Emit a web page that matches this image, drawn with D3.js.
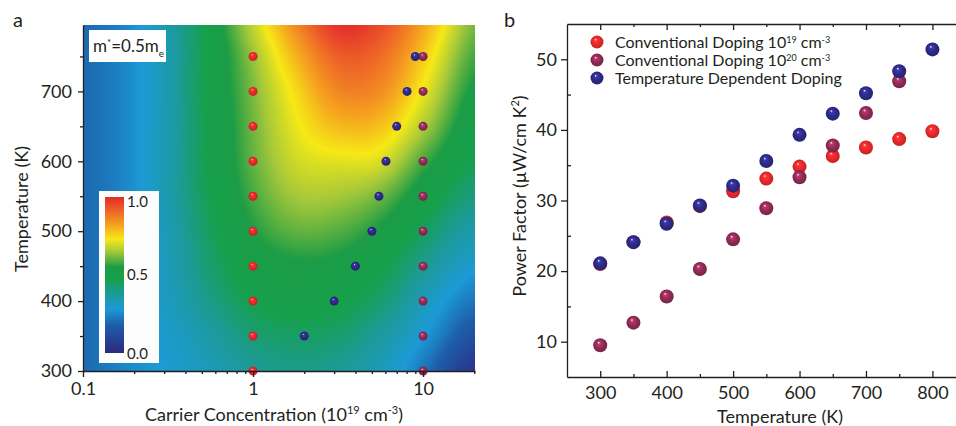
<!DOCTYPE html>
<html>
<head>
<meta charset="utf-8">
<script src="https://cdn.jsdelivr.net/npm/d3@7"></script>
<style>
body { margin: 0; background: #fff; }
svg text { font-family: Lato, "Noto Sans", sans-serif; fill: #231f20; }
.axis path, .axis line { stroke: #231f20; stroke-width: 1.3; }
</style>
</head>
<body>
<svg id="chart" width="956" height="426"></svg>
<script>
// ---- panel a data ----
var gridN = [0.1, 0.18, 0.32, 0.56, 1, 1.8, 3.2, 5.6, 10, 20];
var gridT = [800, 750, 700, 650, 600, 550, 500, 450, 400, 350, 300];
// normalised power factor, one row per temperature (top to bottom)
var gridPF = [
  [0.20, 0.25, 0.35, 0.50, 0.68, 0.86, 0.99, 0.95, 0.82, 0.62],
  [0.20, 0.25, 0.35, 0.49, 0.64, 0.80, 0.92, 0.90, 0.77, 0.58],
  [0.20, 0.25, 0.35, 0.49, 0.62, 0.75, 0.86, 0.85, 0.72, 0.54],
  [0.20, 0.25, 0.35, 0.48, 0.61, 0.72, 0.79, 0.78, 0.66, 0.50],
  [0.20, 0.25, 0.35, 0.48, 0.60, 0.69, 0.71, 0.70, 0.58, 0.46],
  [0.20, 0.25, 0.35, 0.47, 0.58, 0.65, 0.65, 0.61, 0.51, 0.41],
  [0.20, 0.25, 0.34, 0.45, 0.55, 0.60, 0.59, 0.54, 0.45, 0.35],
  [0.20, 0.25, 0.33, 0.43, 0.51, 0.54, 0.53, 0.48, 0.39, 0.29],
  [0.20, 0.25, 0.32, 0.40, 0.47, 0.50, 0.48, 0.43, 0.33, 0.22],
  [0.20, 0.25, 0.30, 0.36, 0.42, 0.44, 0.43, 0.37, 0.28, 0.14],
  [0.20, 0.25, 0.29, 0.33, 0.38, 0.40, 0.38, 0.33, 0.22, 0.05]
];
var cmapStops = [0, 0.08, 0.18, 0.28, 0.38, 0.47, 0.55, 0.65, 0.73, 0.82, 0.91, 1.0];
var cmapColors = ["#2e2a7a", "#263f94", "#1d5ea9", "#1c9ad6", "#1c9a98", "#16a04c", "#1b9c45",
                  "#a5c83a", "#f6e916", "#f5a21f", "#ee6527", "#e3292b"];

var tempA = [300, 350, 400, 450, 500, 550, 600, 650, 700, 750];
var nConv19 = [1, 1, 1, 1, 1, 1, 1, 1, 1, 1];
var nConv20 = [10, 10, 10, 10, 10, 10, 10, 10, 10, 10];
var tempTdd = [350, 400, 450, 500, 550, 600, 650, 700, 750];
var nTdd = [2.0, 3.0, 4.0, 5.0, 5.5, 6.05, 7.0, 8.05, 9.0];

// ---- panel b data ----
var tempB = [300, 350, 400, 450, 500, 550, 600, 650, 700, 750, 800];
var pfConv19 = [21.0, 24.1, 26.9, 29.2, 31.3, 33.1, 34.8, 36.3, 37.5, 38.7, 39.8];
var pfConv20 = [9.5, 12.7, 16.4, 20.3, 24.5, 28.9, 33.3, 37.8, 42.4, 46.9];
var pfTdd = [21.1, 24.1, 26.7, 29.3, 32.1, 35.6, 39.3, 42.3, 45.2, 48.3, 51.4];

var colors = { c19: "#e8282a", c20: "#8e2b55", tdd: "#2e2a85" };

var svg = d3.select("#chart");

// sphere-like gradients
var defs = svg.append("defs");
Object.keys(colors).forEach(function(k) {
  var g = defs.append("radialGradient").attr("id", "ball-" + k)
    .attr("cx", "50%").attr("cy", "50%").attr("r", "55%")
    .attr("fx", "38%").attr("fy", "30%");
  g.append("stop").attr("offset", "0%").attr("stop-color", "#ffffff");
  g.append("stop").attr("offset", "18%").attr("stop-color", d3.color(colors[k]).brighter(0.8));
  g.append("stop").attr("offset", "55%").attr("stop-color", colors[k]);
  g.append("stop").attr("offset", "100%").attr("stop-color", d3.color(colors[k]).darker(0.6));
});

var cmap = d3.scaleLinear().domain(cmapStops).range(cmapColors).clamp(true);

// ================= panel a =================
var xA = d3.scaleLog().domain([0.1, 20.2]).range([83, 475]);
var yA = d3.scaleLinear().domain([300, 795]).range([371, 25]);

// heat map, bicubic smoothing of the grid
var colIdx = d3.scaleLinear().domain(gridN.map(Math.log10)).range(d3.range(gridN.length)).clamp(true);
var rowIdx = d3.scaleLinear().domain(gridT).range(d3.range(gridT.length)).clamp(true);
function cr(p0, p1, p2, p3, t) {
  return 0.5 * (2 * p1 + (-p0 + p2) * t + (2 * p0 - 5 * p1 + 4 * p2 - p3) * t * t +
    (-p0 + 3 * p1 - 3 * p2 + p3) * t * t * t);
}
function at(r, c) {
  r = Math.max(0, Math.min(gridT.length - 1, r));
  c = Math.max(0, Math.min(gridN.length - 1, c));
  return gridPF[r][c];
}
function sample(gx, gy) {
  var i = Math.min(Math.floor(gx), gridN.length - 2), tx = gx - i;
  var j = Math.min(Math.floor(gy), gridT.length - 2), ty = gy - j;
  var rows = [];
  for (var r = j - 1; r <= j + 2; r++) {
    rows.push(cr(at(r, i - 1), at(r, i), at(r, i + 1), at(r, i + 2), tx));
  }
  return cr(rows[0], rows[1], rows[2], rows[3], ty);
}

var x0 = xA.range()[0], x1 = xA.range()[1], y0 = yA.range()[1], y1 = yA.range()[0];
var cw = Math.round(x1 - x0), ch = Math.round(y1 - y0);
var canvas = document.createElement("canvas");
canvas.width = cw; canvas.height = ch;
var ctx = canvas.getContext("2d");
var img = ctx.createImageData(cw, ch);
for (var py = 0; py < ch; py++) {
  var gy = rowIdx(yA.invert(y0 + py + 0.5));
  for (var px = 0; px < cw; px++) {
    var gx = colIdx(Math.log10(xA.invert(x0 + px + 0.5)));
    var c = d3.rgb(cmap(sample(gx, gy)));
    var o = (py * cw + px) * 4;
    img.data[o] = c.r; img.data[o + 1] = c.g; img.data[o + 2] = c.b; img.data[o + 3] = 255;
  }
}
ctx.putImageData(img, 0, 0);
svg.append("image").attr("x", x0).attr("y", y0).attr("width", cw).attr("height", ch)
  .attr("href", canvas.toDataURL());

// points on the map
function ballsA(ns, ts, key) {
  svg.append("g").selectAll("circle")
    .data(ns.map(function(n, i) { return { n: n, t: ts[i] }; }))
    .enter().append("circle")
    .attr("cx", function(d) { return xA(d.n); })
    .attr("cy", function(d) { return yA(d.t); })
    .attr("r", 4.5)
    .style("fill", "url(#ball-" + key + ")");
}
ballsA(nConv19, tempA, "c19");
ballsA(nConv20, tempA, "c20");
ballsA(nTdd, tempTdd, "tdd");

// axes
svg.append("g").attr("class", "axis").attr("transform", "translate(83,0)")
  .call(d3.axisLeft(yA).tickValues([300, 400, 500, 600, 700]).tickSize(5).tickSizeOuter(0).tickPadding(6))
  .call(function(g) { g.selectAll("text").style("font-size", "18px"); });
svg.append("g").attr("class", "axis").attr("transform", "translate(83,0)")
  .call(d3.axisLeft(yA).tickValues([350, 450, 550, 650, 750]).tickSize(3).tickFormat(""))
  .call(function(g) { g.select(".domain").remove(); });
svg.append("g").attr("class", "axis").attr("transform", "translate(0,371)")
  .call(d3.axisBottom(xA).tickValues([0.1, 1, 10]).tickSize(6).tickSizeOuter(0).tickPadding(5)
    .tickFormat(function(d) { return d3.format("~g")(d); }))
  .call(function(g) { g.selectAll("text").style("font-size", "18px"); });
svg.append("g").attr("class", "axis").attr("transform", "translate(0,371)")
  .call(d3.axisBottom(xA).tickValues([0.2, 0.3, 0.4, 0.5, 0.6, 0.7, 0.8, 0.9, 2, 3, 4, 5, 6, 7, 8, 9, 20])
    .tickSize(3).tickFormat(""))
  .call(function(g) { g.select(".domain").remove(); });

// colour bar
svg.append("rect").attr("x", 99).attr("y", 191).attr("width", 60).attr("height", 172).attr("fill", "#fdfdfd");
var lg = defs.append("linearGradient").attr("id", "cbar").attr("x1", 0).attr("y1", 1).attr("x2", 0).attr("y2", 0);
cmapStops.forEach(function(s, i) {
  lg.append("stop").attr("offset", s).attr("stop-color", cmapColors[i]);
});
var yCb = d3.scaleLinear().domain([0, 1]).range([353, 197]);
svg.append("rect").attr("x", 105).attr("y", yCb(1)).attr("width", 19).attr("height", yCb(0) - yCb(1))
  .attr("fill", "url(#cbar)");
svg.append("g").selectAll("text").data([1.0, 0.5, 0.0]).enter().append("text")
  .attr("x", 127)
  .attr("y", function(d) { return d === 1 ? yCb(d) + 10 : d === 0 ? yCb(d) + 6 : yCb(d) + 5; })
  .style("font-size", "15px")
  .text(function(d) { return d3.format(".1f")(d); });

// effective mass box
svg.append("rect").attr("x", 89).attr("y", 30).attr("width", 77).attr("height", 32).attr("fill", "#fff");
var mt = svg.append("text").attr("x", 93).attr("y", 52).style("font-size", "17px");
mt.append("tspan").text("m");
mt.append("tspan").attr("dy", -6).style("font-size", "10px").text("*");
mt.append("tspan").attr("dy", 6).text("=0.5m");
mt.append("tspan").attr("dy", 5).style("font-size", "10px").text("e");

// labels
svg.append("text").attr("x", 13).attr("y", 27).style("font-size", "20px").text("a");
svg.append("text").attr("transform", "translate(28,209) rotate(-90)").attr("text-anchor", "middle")
  .style("font-size", "18px").text("Temperature (K)");
var xla = svg.append("text").attr("x", 274).attr("y", 421).attr("text-anchor", "middle").style("font-size", "18px");
xla.append("tspan").text("Carrier Concentration (10");
xla.append("tspan").attr("dy", -7).style("font-size", "11px").text("19");
xla.append("tspan").attr("dy", 7).text(" cm");
xla.append("tspan").attr("dy", -7).style("font-size", "11px").text("-3");
xla.append("tspan").attr("dy", 7).text(")");

// ================= panel b =================
var xB = d3.scaleLinear().domain([250, 840]).range([567, 959]);
var yB = d3.scaleLinear().domain([5, 55]).range([377, 24]);

svg.append("g").attr("class", "axis").attr("transform", "translate(0,377)")
  .call(d3.axisBottom(xB).tickValues([300, 400, 500, 600, 700, 800]).tickSize(-6).tickSizeOuter(0).tickPadding(9))
  .call(function(g) { g.selectAll("text").style("font-size", "18px"); });
svg.append("g").attr("class", "axis").attr("transform", "translate(0,377)")
  .call(d3.axisBottom(xB).tickValues([350, 450, 550, 650, 750]).tickSize(-3).tickFormat(""))
  .call(function(g) { g.select(".domain").remove(); });
svg.append("g").attr("class", "axis").attr("transform", "translate(0,24)")
  .call(d3.axisTop(xB).tickValues([300, 400, 500, 600, 700, 800]).tickSize(-6).tickSizeOuter(0).tickFormat(""));
svg.append("g").attr("class", "axis").attr("transform", "translate(0,24)")
  .call(d3.axisTop(xB).tickValues([350, 450, 550, 650, 750]).tickSize(-3).tickFormat(""))
  .call(function(g) { g.select(".domain").remove(); });
svg.append("g").attr("class", "axis").attr("transform", "translate(567,0)")
  .call(d3.axisLeft(yB).tickValues([10, 20, 30, 40, 50]).tickSize(6).tickSizeOuter(0).tickPadding(4))
  .call(function(g) { g.selectAll("text").style("font-size", "18px"); });
svg.append("g").attr("class", "axis").attr("transform", "translate(567,0)")
  .call(d3.axisLeft(yB).tickValues([15, 25, 35, 45]).tickSize(-4).tickFormat(""))
  .call(function(g) { g.select(".domain").remove(); });

function ballsB(vals, key) {
  svg.append("g").selectAll("circle")
    .data(vals.map(function(v, i) { return { t: tempB[i], v: v }; }))
    .enter().append("circle")
    .attr("cx", function(d) { return xB(d.t); })
    .attr("cy", function(d) { return yB(d.v); })
    .attr("r", 7)
    .style("fill", "url(#ball-" + key + ")");
}
ballsB(pfConv19, "c19");
ballsB(pfConv20, "c20");
ballsB(pfTdd, "tdd");

// legend
var legend = [
  { key: "c19", text: "Conventional Doping 10", sup: "19" },
  { key: "c20", text: "Conventional Doping 10", sup: "20" },
  { key: "tdd", text: "Temperature Dependent Doping" }
];
var lgG = svg.append("g").selectAll("g").data(legend).enter().append("g")
  .attr("transform", function(d, i) { return "translate(597," + (42 + i * 18) + ")"; });
lgG.append("circle").attr("r", 6.5).style("fill", function(d) { return "url(#ball-" + d.key + ")"; });
lgG.each(function(d) {
  var t = d3.select(this).append("text").attr("x", 18).attr("y", 6).style("font-size", "16px");
  t.append("tspan").text(d.text);
  if (d.sup) {
    t.append("tspan").attr("dy", -5).style("font-size", "9px").text(d.sup);
    t.append("tspan").attr("dy", 5).text(" cm");
    t.append("tspan").attr("dy", -5).style("font-size", "9px").text("-3");
  }
});

svg.append("text").attr("x", 504).attr("y", 27).style("font-size", "20px").text("b");
var yl = svg.append("text").attr("transform", "translate(526,196) rotate(-90)").attr("text-anchor", "middle")
  .style("font-size", "18px");
yl.append("tspan").text("Power Factor (\u00b5W/cm K");
yl.append("tspan").attr("dy", -7).style("font-size", "11px").text("2");
yl.append("tspan").attr("dy", 7).text(")");
svg.append("text").attr("x", 780).attr("y", 423).attr("text-anchor", "middle")
  .style("font-size", "18px").text("Temperature (K)");
</script>
</body>
</html>
